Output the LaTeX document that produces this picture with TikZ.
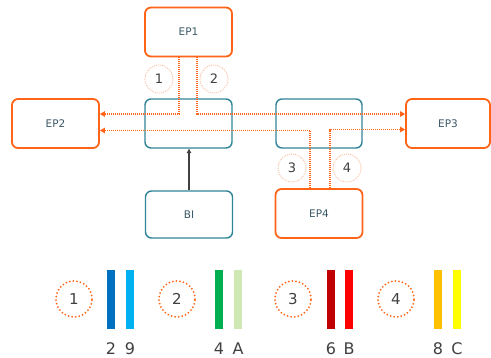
\documentclass[tikz,border=0pt]{standalone}
\usepackage{fontspec}
\setmainfont{DejaVu Sans}
\usetikzlibrary{arrows.meta}
\definecolor{ora}{HTML}{FF6418}
\definecolor{lora}{HTML}{F7B08C}
\definecolor{teal}{HTML}{2F8497}
\definecolor{tx}{HTML}{3A5866}
\definecolor{dg}{HTML}{404040}
\definecolor{cA}{HTML}{0070C0}
\definecolor{cB}{HTML}{00B0F0}
\definecolor{cC}{HTML}{00B050}
\definecolor{cD}{HTML}{CFE8B4}
\definecolor{cE}{HTML}{C00000}
\definecolor{cF}{HTML}{FF0000}
\definecolor{cG}{HTML}{FFC000}
\definecolor{cH}{HTML}{FFFF00}
\tikzset{
  epbox/.style={draw=ora, line width=1.8pt, rounded corners=6pt, minimum width=87pt, minimum height=49pt, text=tx, font=\fontsize{10.5}{12}\selectfont},
  tbox/.style={draw=teal, line width=1.4pt, rounded corners=6pt, minimum width=87pt, minimum height=49pt, text=tx, font=\fontsize{10.5}{12}\selectfont},
  conn/.style={draw=ora, line width=1.1pt, dash pattern=on 1pt off 1pt},
  tip/.style={-{Triangle[length=5pt,width=5.5pt]}},
  smallnum/.style={circle, draw=lora, line width=0.7pt, dash pattern=on 1pt off 1pt, minimum size=28pt, inner sep=0pt, text=dg, font=\fontsize{13}{15}\selectfont},
  bignum/.style={circle, draw=ora, line width=2pt, dash pattern=on 0pt off 3.6pt, line cap=round, minimum size=36pt, inner sep=0pt, text=dg, font=\fontsize{15}{17}\selectfont},
  lab/.style={text=dg, font=\fontsize{16}{18}\selectfont, inner sep=0pt, text depth=0pt, anchor=base}
}
\begin{document}
\begin{tikzpicture}[x=1pt,y=-1pt]
\useasboundingbox (0,0) rectangle (491,357);
\node[epbox] (EP1) at (188.5,32) {EP1};
\node[tbox] (L) at (188.5,123.5) {};
\node[epbox] (EP2) at (55.5,123.5) {EP2};
\node[tbox, minimum width=86pt] (R) at (319,123.5) {};
\node[epbox, minimum width=84pt] (EP3) at (448,123.5) {EP3};
\node[tbox, minimum height=47pt] (BI) at (189,214.5) {BI};
\node[epbox] (EP4) at (319,213.5) {EP4};

\coordinate (k1) at (179,114);
\coordinate (k2) at (197,114);
\coordinate (k3) at (310,130.5);
\coordinate (k4) at (330,129.5);
\draw[conn,tip] (EP1.south -| k1) |- (EP2.east |- k1);
\draw[conn,tip] (EP1.south -| k2) |- (EP3.west |- k2);
\draw[conn,tip] (EP4.north -| k3) |- (EP2.east |- k3);
\draw[conn,tip] (EP4.north -| k4) |- (EP3.west |- k4);
\draw[dg, line width=1.3pt, -{Triangle[length=4.5pt,width=4.5pt]}] (BI.north) -- (L.south -| BI.north);

\node[smallnum] (n1) at (159,79) {1};
\node[smallnum] (n2) at (214,79) {2};
\node[smallnum] (n3) at (292,168) {3};
\node[smallnum] (n4) at (347,168) {4};

\node[bignum] (b1) at (74,299) {1};
\node[bignum] (b2) at (177,299) {2};
\node[bignum] (b3) at (293,299) {3};
\node[bignum] (b4) at (396,299) {4};

\fill[cA] (107,270) rectangle (115,329);
\fill[cB] (126,270) rectangle (134,329);
\fill[cC] (215,270) rectangle (223,329);
\fill[cD] (234,270) rectangle (242,329);
\fill[cE] (327,270) rectangle (335,329);
\fill[cF] (345,270) rectangle (353,329);
\fill[cG] (434,270) rectangle (442,329);
\fill[cH] (453,270) rectangle (461,329);

\node[lab] (l2) at (111,354) {2};
\node[lab] (l9) at (130,354) {9};
\node[lab] (l4) at (219,354) {4};
\node[lab] (lA) at (238,354) {A};
\node[lab] (l6) at (331,354) {6};
\node[lab] (lB) at (349,354) {B};
\node[lab] (l8) at (438,354) {8};
\node[lab] (lC) at (457,354) {C};
\end{tikzpicture}
\end{document}
